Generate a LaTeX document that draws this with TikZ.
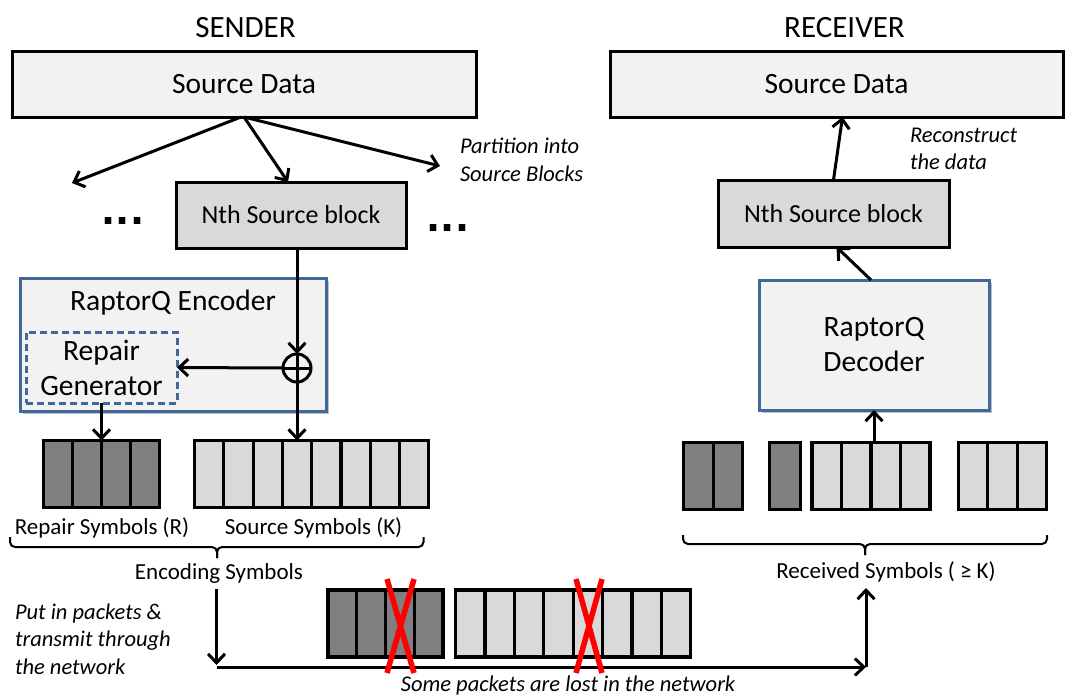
\documentclass[tikz,border=0pt]{standalone}
\usepackage{fontspec}
\setmainfont{Carlito}
\newfontfamily\dotfont{DejaVu Sans}
\usetikzlibrary{arrows.meta,shadows}
\definecolor{boxfill}{RGB}{242,242,242}
\definecolor{blockfill}{RGB}{217,217,217}
\definecolor{darkgraycell}{RGB}{128,128,128}
\definecolor{lightgraycell}{RGB}{217,217,217}
\definecolor{encblue}{RGB}{65,104,154}
\definecolor{lossred}{RGB}{255,0,0}
\begin{document}
\begin{tikzpicture}[x=1pt,y=-1pt,
  every node/.style={inner sep=0pt,outer sep=0pt},
  fbig/.style={font=\fontsize{29.5}{35}\selectfont},
  fhead/.style={font=\fontsize{31}{36}\selectfont},
  fmid/.style={font=\fontsize{26}{30}\selectfont},
  fsmall/.style={font=\fontsize{23}{27}\selectfont},
  fital/.style={font=\fontsize{22.5}{27.5}\selectfont\itshape},
  databox/.style={draw=black,line width=3pt,fill=boxfill,fbig},
  blockbox/.style={draw=black,line width=3pt,fill=blockfill,fmid},
  codecbox/.style={draw=encblue,line width=3pt,fill=boxfill,
     drop shadow={shadow xshift=3pt,shadow yshift=-3pt,fill=black,opacity=0.25}},
  gendash/.style={draw=encblue,line width=3pt,dash pattern=on 7pt off 4pt,fbig,align=center},
  dcell/.style={draw=black,line width=3.2pt,fill=darkgraycell,minimum height=67},
  lcell/.style={draw=black,line width=3.2pt,fill=lightgraycell,minimum height=67},
  arr/.style={-{Straight Barb[length=9pt,width=17pt]},line width=3pt},
  bracket/.style={draw=black,line width=2pt,rounded corners=5pt},
  lossx/.style={draw=lossred,line width=5.5pt},
  dots/.style={font=\dotfont\fontsize{37}{37}\selectfont\bfseries}
]
\useasboundingbox (0,0) rectangle (1067,696);

% headings
\node[fhead] (sender) at (245.5,28) {SENDER};
\node[fhead] (receiver) at (844.5,28) {RECEIVER};

% sender side
\node[databox,minimum width=464,minimum height=66] (sd1) at (244,84) {Source Data};
\node[blockbox,minimum width=230,minimum height=66] (nb1) at (291,215) {Nth Source block};
\node[dots,anchor=base] (ldots) at (123,224) {...};
\node[dots,anchor=base] (rdots) at (448,231) {...};
\node[fital,anchor=west,align=left] (part) at (460,160) {Partition into\\Source Blocks};
\coordinate (lefttip) at (72,183);
\coordinate (righttip) at (440,166);
\draw[arr] ([xshift=-3]sd1.south) -- (lefttip);
\draw[arr] (sd1.south) -- ([xshift=-3]nb1.north);
\draw[arr] (sd1.south) -- (righttip);

\node[codecbox,minimum width=306,minimum height=133] (enc) at (173,344.5) {};
\node[fbig] (enctext) at (173,303) {RaptorQ Encoder};
\node[gendash,minimum width=151,minimum height=71] (rg) at (101.5,367.5) {Repair\\Generator};
\node[draw=black,line width=3pt,circle,minimum size=28] (xor) at (297,368) {};
\draw[line width=3pt] (xor.north) -- (xor.south) (xor.west) -- (xor.east);

% sender symbols
\foreach \i in {1,...,4}
  \node[dcell,minimum width=28.9] (sr\i) at ({43.7+28.9*(\i-0.5)},474) {};
\foreach \i in {1,...,8}
  \node[lcell,minimum width=29.26] (ss\i) at ({194.6+29.26*(\i-0.5)},474) {};
\node[fsmall] (replab) at (102,528) {Repair Symbols (R)};
\node[fsmall] (srclab) at (313.5,528) {Source Symbols (K)};
\draw[bracket] (10,537) |- (217,547) -- (217,558);
\draw[bracket] (423.5,537) |- (217,547) -- (217,558);
\node[fsmall] (encsym) at (219,573) {Encoding Symbols};

\draw[arr] (xor.north |- nb1.south) -- (xor.north);
\draw[arr] (xor.west) -- (rg.east);
\draw[arr] (xor.south) -- (xor.south |- ss4.north);
\draw[arr] (rg.south) -- (rg.south |- sr2.north);

% receiver side
\node[databox,minimum width=453,minimum height=66] (sd2) at (836.5,84) {Source Data};
\node[blockbox,minimum width=231,minimum height=67] (nb2) at (833.5,213.5) {Nth Source block};
\node[fital,anchor=west,align=left] (recon) at (910,149) {Reconstruct\\the data};
\node[codecbox,minimum width=230,minimum height=130,fbig,align=center] (dec) at (874,345) {RaptorQ\\Decoder};
\draw[arr] (nb2.north) -- ([xshift=6]sd2.south);
\draw[arr] ([xshift=-3]dec.north) -- ([xshift=3]nb2.south);

\foreach \i in {1,2}
  \node[dcell,minimum width=29.6] (rd\i) at ({683.5+29.6*(\i-0.5)},476) {};
\node[dcell,minimum width=30.5] (rd3) at (785,476) {};
\foreach \i in {1,...,4}
  \node[lcell,minimum width=29.5] (rl\i) at ({812+29.5*(\i-0.5)},476) {};
\foreach \i in {5,6,7}
  \node[lcell,minimum width=29.3] (rl\i) at ({958.5+29.3*(\i-4.5)},476) {};
\draw[arr] (dec.south |- rl3.north) -- (dec.south);
\draw[bracket] (683,535) |- (865,544) -- (865,555);
\draw[bracket] (1047,535) |- (865,544) -- (865,555);
\node[fsmall] (recsym) at (886,572) {Received Symbols ( ≥ K)};

% network
\node[fital,anchor=west,align=left] (put) at (15,639) {Put in packets \&\\transmit through\\the network};
\coordinate (netl) at (216.5,667);
\coordinate (netr) at (866,667);
\coordinate (uptip) at (866,588);
\draw[arr] (encsym.south -| netl) ++(0,6) -- ([yshift=2]netl);
\draw[arr] (netl) -- (netr);
\draw[arr] (netr) -- (uptip);

\foreach \i in {1,...,4}
  \node[dcell,minimum width=28.75] (pd\i) at ({328+28.75*(\i-0.5)},623.5) {};
\foreach \i in {1,...,8}
  \node[lcell,minimum width=29.4] (pl\i) at ({455.5+29.4*(\i-0.5)},623.5) {};
\draw[lossx] (387,579) -- (414,673) (414,579) -- (387,673);
\draw[lossx] (576,579) -- (602,673) (602,579) -- (576,673);
\node[fital] (lost) at (568,685) {Some packets are lost in the network};
\end{tikzpicture}
\end{document}
